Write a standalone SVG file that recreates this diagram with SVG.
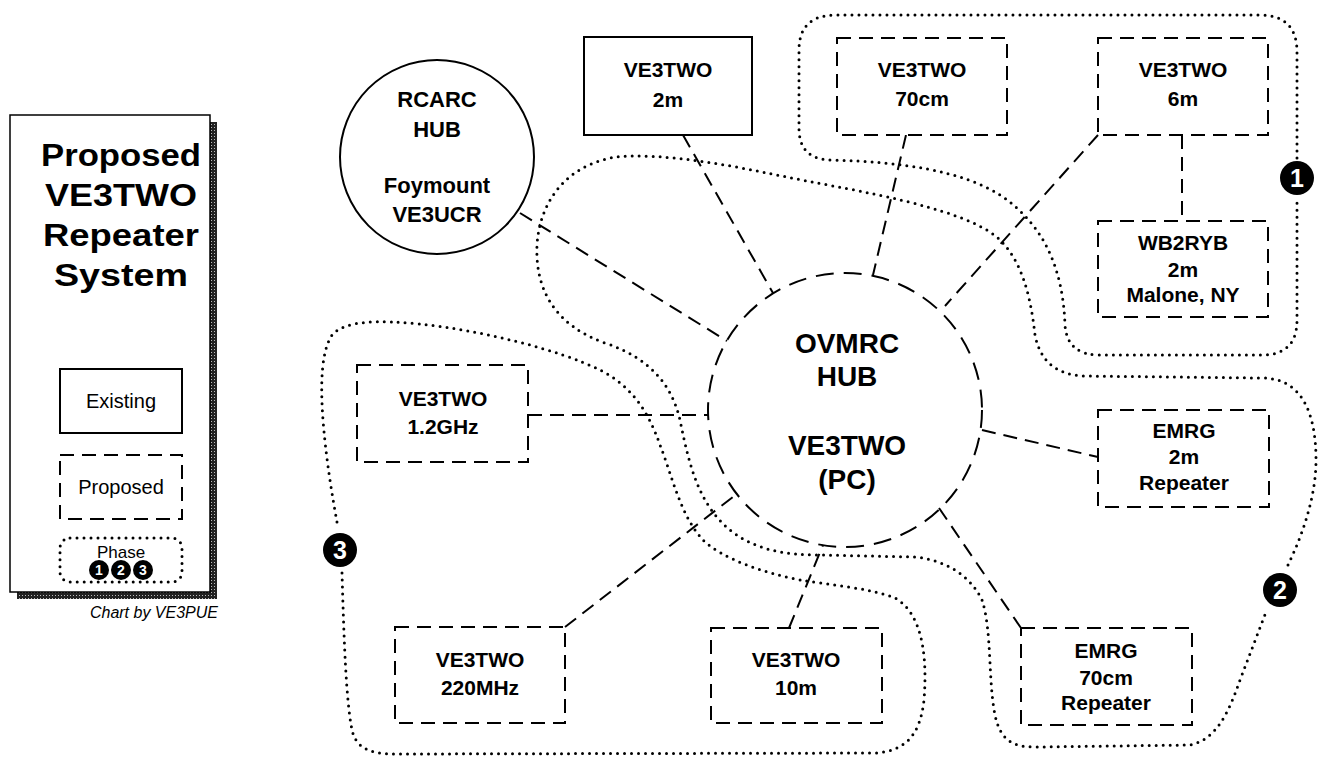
<svg xmlns="http://www.w3.org/2000/svg" width="1318" height="762" viewBox="0 0 1318 762">
<style>
text{font-family:"Liberation Sans",Arial,sans-serif;fill:#000;text-anchor:middle}
.b{font-weight:bold;font-size:21px}
.t{font-weight:bold;font-size:31px}
.lg{font-size:20px}
.solid{fill:#fff;stroke:#000;stroke-width:2}
.dash{fill:#fff;stroke:#000;stroke-width:2;stroke-dasharray:14 8}
.conn{fill:none;stroke:#000;stroke-width:2;stroke-dasharray:14 8}
.dot{fill:none;stroke:#000;stroke-width:3;stroke-linecap:round;stroke-dasharray:0 7}
.num{fill:#fff;font-weight:bold;font-size:25px}
.nums{fill:#fff;font-weight:bold;font-size:14px}
</style>
<defs>
<pattern id="stip" width="3" height="3" patternUnits="userSpaceOnUse"><rect width="3" height="3" fill="#222"/><rect x="1" y="1" width="1" height="1" fill="#bbb"/></pattern>
</defs>
<rect width="1318" height="762" fill="#fff"/>

<g id="legend">
<rect x="17" y="122" width="200" height="477" fill="url(#stip)"/>
<rect x="10" y="115" width="200" height="477" fill="#fff" stroke="#000" stroke-width="1.5"/>
<text class="t" x="121" y="166" textLength="160" lengthAdjust="spacingAndGlyphs">Proposed</text>
<text class="t" x="121" y="206" textLength="152" lengthAdjust="spacingAndGlyphs">VE3TWO</text>
<text class="t" x="121" y="246" textLength="156" lengthAdjust="spacingAndGlyphs">Repeater</text>
<text class="t" x="121" y="286" textLength="134" lengthAdjust="spacingAndGlyphs">System</text>
<rect class="solid" x="60" y="369" width="122" height="64"/>
<text class="lg" x="121" y="408">Existing</text>
<rect class="dash" x="60" y="455" width="122" height="64"/>
<text class="lg" x="121" y="494">Proposed</text>
<rect class="dot" x="60" y="538" width="122" height="44" rx="10"/>
<text class="lg" x="121" y="558" style="font-size:17px">Phase</text>
<circle cx="99" cy="570" r="10"/><text class="nums" x="99" y="575">1</text>
<circle cx="121" cy="570" r="10"/><text class="nums" x="121" y="575">2</text>
<circle cx="143" cy="570" r="10"/><text class="nums" x="143" y="575">3</text>
</g>
<text x="218" y="618" style="font-size:16px;font-style:italic;text-anchor:end">Chart by VE3PUE</text>

<g id="phases">
<path class="dot" d="M1297,158 L1297,52 Q1297,15 1260,15 L836,15 Q799,15 799,50 L799,128 Q799,160 832,160 C900,162 960,170 1000,195 C1045,225 1063,270 1065,325 Q1067,355 1100,355 L1262,355 Q1297,355 1297,320 L1297,198"/>
<path class="dot" d="M1288,565 C1300,540 1316,500 1316,460 C1316,410 1300,378 1262,378 L1085,376 C1055,375 1040,360 1035,335 C1030,290 1020,260 1000,240 C975,215 900,198 817,183 C760,172 690,155 630,156 C575,157 540,195 537,245 C535,290 555,325 605,343 C650,358 672,385 680,420 C690,470 700,505 730,530 C755,550 785,555 820,555 L915,557 C945,560 970,575 982,600 C992,630 988,680 995,715 C1000,738 1010,747 1035,747 L1190,745 C1215,740 1228,715 1240,680 L1266,612"/>
<path class="dot" d="M342,573 C344,640 346,700 352,730 C356,748 370,754 395,754 L875,753 C905,751 920,736 924,700 C928,650 920,612 895,598 C870,588 830,585 800,580 C760,572 722,558 703,540 C680,515 672,475 660,445 C648,410 630,385 600,370 C560,350 480,330 420,324 C380,320 345,320 332,335 C322,350 320,380 323,420 C327,470 335,510 338,528"/>
<circle cx="1297" cy="178" r="17"/><text class="num" x="1297" y="187">1</text>
<circle cx="1280" cy="590" r="17"/><text class="num" x="1280" y="599">2</text>
<circle cx="340" cy="550" r="17"/><text class="num" x="340" y="559">3</text>
</g>

<g id="connectors">
<line class="conn" x1="520" y1="213" x2="727" y2="341"/>
<line class="conn" x1="683" y1="135" x2="773" y2="293"/>
<line class="conn" x1="906" y1="135" x2="873" y2="275"/>
<line class="conn" x1="1098" y1="135" x2="945" y2="306"/>
<line class="conn" x1="1182" y1="135" x2="1182" y2="221"/>
<line class="conn" x1="528" y1="415" x2="709" y2="415"/>
<line class="conn" x1="565" y1="627" x2="738" y2="493"/>
<line class="conn" x1="789" y1="628" x2="823" y2="545"/>
<line class="conn" x1="982" y1="430" x2="1098" y2="457"/>
<line class="conn" x1="939" y1="508" x2="1021" y2="628"/>
</g>

<g id="ovmrc">
<circle cx="845" cy="410" r="137" fill="none" stroke="#000" stroke-width="2" stroke-dasharray="18 10"/>
<text x="847" y="353" style="font-weight:bold;font-size:28px">OVMRC</text>
<text x="847" y="386" style="font-weight:bold;font-size:28px">HUB</text>
<text x="847" y="455" style="font-weight:bold;font-size:28px">VE3TWO</text>
<text x="847" y="489" style="font-weight:bold;font-size:28px">(PC)</text>
</g>

<g id="rcarc">
<circle cx="437" cy="157" r="97" fill="#fff" stroke="#000" stroke-width="2"/>
<text class="b" x="437" y="107" style="font-size:22px">RCARC</text>
<text class="b" x="437" y="137" style="font-size:22px">HUB</text>
<text class="b" x="437" y="193" style="font-size:22px">Foymount</text>
<text class="b" x="437" y="222" style="font-size:22px">VE3UCR</text>
</g>

<g id="n2m">
<rect class="solid" x="584" y="37" width="168" height="98"/>
<text class="b" x="668" y="77">VE3TWO</text>
<text class="b" x="668" y="107">2m</text>
</g>

<g id="n70cm">
<rect class="dash" x="837" y="38" width="170" height="97"/>
<text class="b" x="922" y="77">VE3TWO</text>
<text class="b" x="922" y="106">70cm</text>
</g>

<g id="n6m">
<rect class="dash" x="1098" y="38" width="170" height="97"/>
<text class="b" x="1183" y="77">VE3TWO</text>
<text class="b" x="1183" y="106">6m</text>
</g>

<g id="wb2ryb">
<rect class="dash" x="1098" y="221" width="170" height="96"/>
<text class="b" x="1183" y="250">WB2RYB</text>
<text class="b" x="1183" y="277">2m</text>
<text class="b" x="1183" y="302">Malone, NY</text>
</g>

<g id="n12ghz">
<rect class="dash" x="357" y="365" width="171" height="97"/>
<text class="b" x="443" y="406">VE3TWO</text>
<text class="b" x="443" y="434">1.2GHz</text>
</g>

<g id="emrg2m">
<rect class="dash" x="1098" y="410" width="171" height="97"/>
<text class="b" x="1184" y="438">EMRG</text>
<text class="b" x="1184" y="464">2m</text>
<text class="b" x="1184" y="490">Repeater</text>
</g>

<g id="n220">
<rect class="dash" x="395" y="627" width="170" height="96"/>
<text class="b" x="480" y="667">VE3TWO</text>
<text class="b" x="480" y="695">220MHz</text>
</g>

<g id="n10m">
<rect class="dash" x="711" y="628" width="171" height="95"/>
<text class="b" x="796" y="667">VE3TWO</text>
<text class="b" x="796" y="695">10m</text>
</g>

<g id="emrg70">
<rect class="dash" x="1021" y="628" width="171" height="97"/>
<text class="b" x="1106" y="658">EMRG</text>
<text class="b" x="1106" y="685">70cm</text>
<text class="b" x="1106" y="710">Repeater</text>
</g>
</svg>
